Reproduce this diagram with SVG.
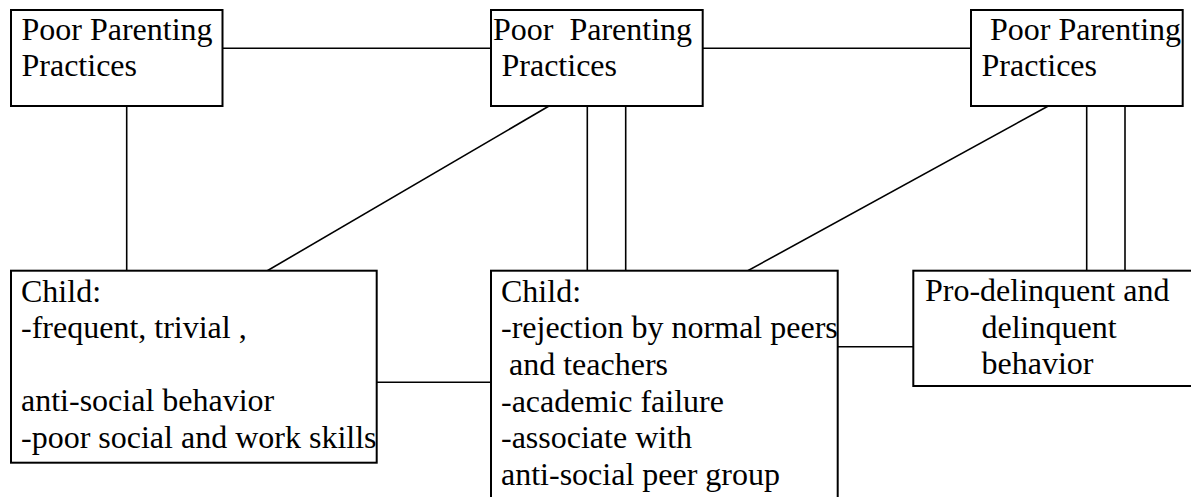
<svg xmlns="http://www.w3.org/2000/svg" width="1191" height="497" viewBox="0 0 1191 497">
<style>
.box{fill:#fff;stroke:#000;stroke-width:2}
.t{font-size:32px;fill:#000;white-space:pre}
.c line{stroke:#000;stroke-width:1.6}
</style>
<rect width="1191" height="497" fill="#fff"/>
<g id="connectors" class="c">
<line x1="222.5" y1="48.3" x2="491" y2="48.3"/>
<line x1="702.7" y1="48.3" x2="971" y2="48.3"/>
<line x1="126.7" y1="106" x2="126.7" y2="275"/>
<line x1="549" y1="106" x2="260" y2="275"/>
<line x1="587.3" y1="106" x2="587.3" y2="275"/>
<line x1="625.7" y1="106" x2="625.7" y2="275"/>
<line x1="1048.3" y1="106" x2="740" y2="275"/>
<line x1="1086.7" y1="106" x2="1086.7" y2="275"/>
<line x1="1125" y1="106" x2="1125" y2="275"/>
<line x1="376.7" y1="382.3" x2="491" y2="382.3"/>
<line x1="837.7" y1="346.7" x2="913.3" y2="346.7"/>
</g>
<g font-family="'Times New Roman', Times, 'Liberation Serif', serif">
<g id="ppp1">
<rect class="box" x="11" y="10" width="211.5" height="96"/>
<text class="t" x="21.5" y="39.5">Poor Parenting</text>
<text class="t" x="21.5" y="76">Practices</text>
</g>
<g id="ppp2">
<rect class="box" x="491" y="10" width="211.7" height="96"/>
<text class="t" x="493" y="39.5">Poor  Parenting</text>
<text class="t" x="501.5" y="76">Practices</text>
</g>
<g id="ppp3">
<rect class="box" x="971" y="10" width="211.7" height="96"/>
<text class="t" x="990" y="39.5">Poor Parenting</text>
<text class="t" x="981.5" y="76">Practices</text>
</g>
<g id="child1">
<rect class="box" x="11" y="270.7" width="365.7" height="192"/>
<text class="t" x="21" y="301.7">Child:</text>
<text class="t" x="21" y="338">-frequent, trivial ,</text>
<text class="t" x="21" y="411">anti-social behavior</text>
<text class="t" x="21" y="447.5">-poor social and work skills</text>
</g>
<g id="child2">
<rect class="box" x="491" y="270.7" width="346.7" height="240"/>
<text class="t" x="501" y="301.7">Child:</text>
<text class="t" x="501" y="338">-rejection by normal peers</text>
<text class="t" x="501" y="374.5"> and teachers</text>
<text class="t" x="501" y="411.5">-academic failure</text>
<text class="t" x="501" y="448">-associate with</text>
<text class="t" x="501" y="485">anti-social peer group</text>
</g>
<g id="delinquent">
<rect class="box" x="913.3" y="270.7" width="290" height="115.3"/>
<text class="t" x="925" y="301">Pro-delinquent and</text>
<text class="t" x="981.5" y="337.5">delinquent</text>
<text class="t" x="981.5" y="374">behavior</text>
</g>
</g>
</svg>
